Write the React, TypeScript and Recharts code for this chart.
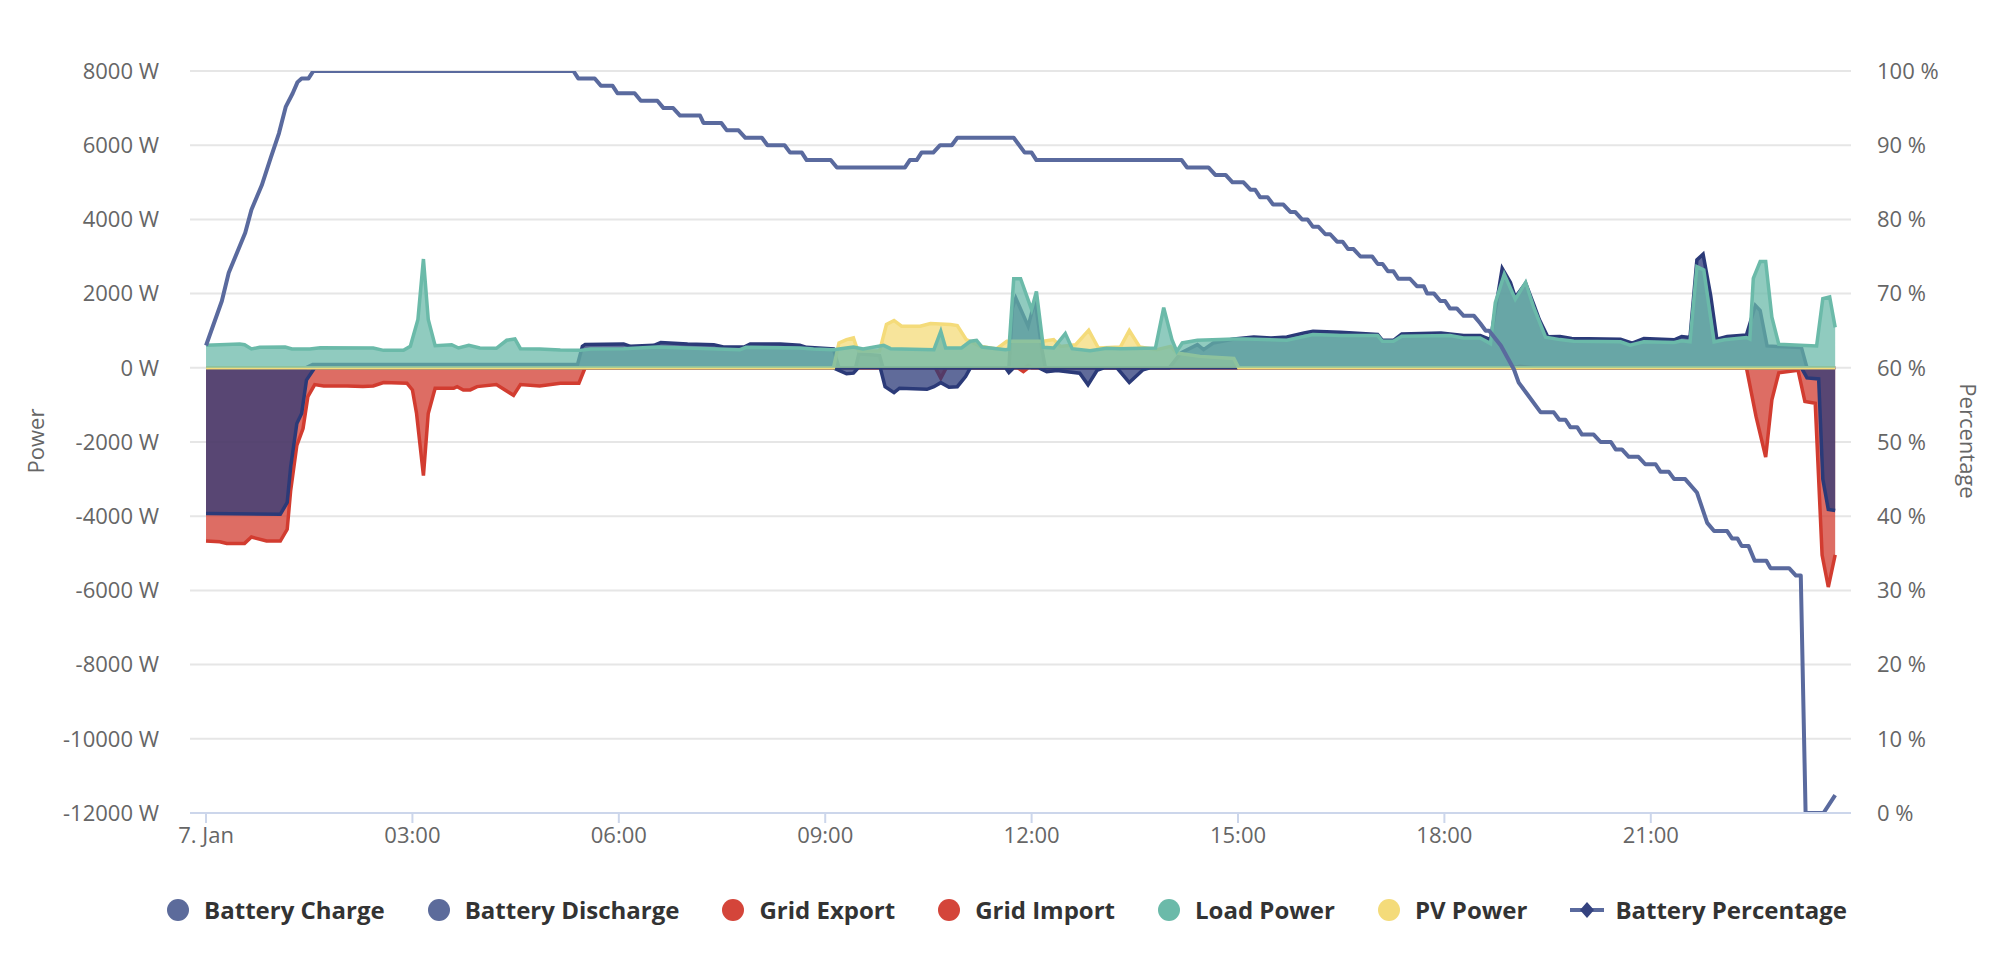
import { Area, CartesianGrid, ComposedChart, Line, XAxis, YAxis } from "recharts";

type Pair = [number, number];

// hours of the day, 7. Jan
const timeTicks = [0, 3, 6, 9, 12, 15, 18, 21];
const timeLabels = ["7. Jan", "03:00", "06:00", "09:00", "12:00", "15:00", "18:00", "21:00"];
const powerTicks = [-12000, -10000, -8000, -6000, -4000, -2000, 0, 2000, 4000, 6000, 8000];
const percentTicks = [0, 10, 20, 30, 40, 50, 60, 70, 80, 90, 100];

const batteryCharge: Pair[] = [
  [0, -3930], [1.08, -3950], [1.18, -3630], [1.23, -2680], [1.32, -1500], [1.39, -1230],
  [1.46, -330], [1.58, 0], [9.12, 0], [9.2, -70], [9.31, -160], [9.41, -145], [9.48, 0],
  [9.8, 0], [9.87, -510], [10.0, -670], [10.08, -550], [10.48, -580], [10.58, -510],
  [10.68, -400], [10.8, -525], [10.92, -510], [11.04, -235], [11.11, 0], [11.62, 0],
  [11.67, -127], [11.74, 0], [12.1, 0], [12.22, -108], [12.37, -72], [12.7, -145],
  [12.82, -460], [12.95, -72], [13.05, 0], [13.24, 0], [13.42, -398], [13.62, -54],
  [13.72, 0], [23.19, 0], [23.27, -273], [23.44, -300], [23.5, -3000], [23.58, -3820],
  [23.68, -3845],
];

const batteryDischarge: Pair[] = [
  [0, 0], [1.45, 0], [1.55, 90], [5.4, 90], [5.47, 580], [5.51, 625], [6.07, 643],
  [6.17, 579], [6.51, 606], [6.61, 680], [7.0, 643], [7.38, 624], [7.52, 561], [7.82, 561],
  [7.91, 643], [8.35, 643], [8.63, 606], [8.73, 552], [9.12, 507], [9.2, 0], [9.44, 0],
  [9.49, 380], [9.79, 330], [9.84, 0], [11.67, 0], [11.72, 1600], [11.77, 1880],
  [11.95, 1120], [12.05, 1830], [12.15, 500], [12.2, 0], [14.0, 0], [14.17, 400],
  [14.41, 624], [14.5, 489], [14.64, 670], [14.94, 778], [15.23, 833], [15.48, 805],
  [15.71, 833], [15.96, 941], [16.09, 986], [16.49, 959], [17.03, 896], [17.1, 742],
  [17.26, 742], [17.38, 914], [17.95, 941], [18.28, 869], [18.52, 869], [18.67, 760],
  [18.84, 2680], [18.96, 2300], [19.03, 1900], [19.18, 2280], [19.3, 1700], [19.38, 1300],
  [19.5, 840], [19.68, 845], [19.85, 791], [20.56, 773], [20.73, 664], [20.9, 791],
  [21.34, 755], [21.45, 845], [21.57, 818], [21.67, 2909], [21.76, 3063], [21.87, 1954],
  [21.96, 773], [22.11, 845], [22.39, 882], [22.52, 1682], [22.59, 1545], [22.69, 591],
  [22.84, 573], [23.19, 545], [23.27, 0], [23.68, 0],
];

const gridExport: Pair[] = [
  [0, 0], [11.9, 0], [11.95, 60], [12.0, 0], [19.0, 0], [19.1, 40], [19.3, 0], [23.68, 0],
];

const gridImport: Pair[] = [
  [0, -4670], [0.2, -4690], [0.3, -4733], [0.56, -4733], [0.66, -4561], [0.88, -4670],
  [1.08, -4670], [1.18, -4353], [1.23, -3312], [1.32, -2090], [1.41, -1638], [1.48, -778],
  [1.58, -452], [1.71, -489], [2.05, -489], [2.28, -507], [2.43, -489], [2.58, -398],
  [2.92, -416], [3.0, -597], [3.06, -1231], [3.16, -2905], [3.23, -1231], [3.33, -552],
  [3.6, -552], [3.65, -507], [3.74, -597], [3.84, -597], [3.94, -507], [4.22, -452],
  [4.47, -742], [4.57, -452], [4.85, -489], [5.15, -416], [5.42, -416], [5.51, 0],
  [10.6, 0], [10.68, -280], [10.76, 0], [11.8, 0], [11.88, -100], [11.95, 0], [22.39, 0],
  [22.53, -1318], [22.67, -2409], [22.76, -864], [22.86, -136], [23.14, -64], [23.24, -909],
  [23.39, -955], [23.49, -5045], [23.58, -5909], [23.68, -5045],
];

const loadPower: Pair[] = [
  [0, 606], [0.2, 624], [0.49, 643], [0.56, 624], [0.66, 507], [0.78, 552], [1.15, 561],
  [1.25, 507], [1.51, 507], [1.66, 543], [2.43, 534], [2.58, 470], [2.87, 470], [2.97, 579],
  [3.08, 1303], [3.16, 2932], [3.23, 1303], [3.33, 597], [3.57, 624], [3.67, 534],
  [3.82, 606], [3.98, 534], [4.22, 525], [4.37, 742], [4.49, 778], [4.57, 516], [4.85, 507],
  [5.15, 480], [5.44, 470], [5.59, 507], [6.07, 516], [6.56, 561], [7.76, 489], [7.85, 552],
  [8.63, 534], [8.83, 507], [9.12, 489], [9.41, 561], [9.55, 507], [9.85, 606], [9.95, 516],
  [10.58, 489], [10.68, 986], [10.75, 534], [10.98, 534], [11.11, 715], [11.2, 742],
  [11.28, 561], [11.62, 489], [11.67, 500], [11.74, 2400], [11.84, 2400], [12.0, 1570],
  [12.07, 2060], [12.17, 552], [12.32, 534], [12.49, 923], [12.59, 516], [12.85, 461],
  [13.09, 525], [13.29, 516], [13.8, 534], [13.92, 1620], [14.04, 760], [14.11, 443],
  [14.19, 670], [14.41, 742], [14.74, 760], [14.94, 778], [15.13, 778], [15.71, 742],
  [16.09, 896], [16.49, 869], [17.03, 869], [17.1, 715], [17.26, 715], [17.38, 851],
  [18.08, 869], [18.28, 805], [18.52, 805], [18.67, 652], [18.74, 1756], [18.87, 2525],
  [19.03, 1846], [19.18, 2299], [19.3, 1620], [19.47, 824], [19.68, 760], [19.88, 715],
  [20.56, 700], [20.7, 609], [20.9, 700], [21.34, 682], [21.45, 727], [21.57, 700],
  [21.67, 2727], [21.77, 2636], [21.92, 700], [22.07, 755], [22.39, 818], [22.44, 773],
  [22.49, 2409], [22.59, 2863], [22.67, 2863], [22.76, 1364], [22.86, 636], [23.17, 609],
  [23.41, 591], [23.5, 1863], [23.6, 1909], [23.68, 1091],
];

const pvPower: Pair[] = [
  [0, 0], [9.12, 0], [9.2, 670], [9.31, 760], [9.41, 805], [9.46, 534], [9.49, 450],
  [9.79, 450], [9.89, 1167], [10.0, 1276], [10.11, 1122], [10.38, 1122], [10.53, 1195],
  [10.82, 1167], [10.92, 1140], [11.05, 760], [11.25, 579], [11.49, 507], [11.64, 715],
  [12.17, 715], [12.32, 760], [12.42, 576], [12.64, 621], [12.83, 1014], [12.97, 534],
  [13.29, 561], [13.42, 1004], [13.57, 561], [13.82, 489], [14.02, 579], [14.11, 398],
  [14.45, 308], [14.94, 253], [15.01, 0], [23.68, 0],
];

const batteryPercentage: Pair[] = [
  [0, 63], [0.23, 69], [0.33, 72.8], [0.57, 78.2], [0.66, 81.3], [0.81, 84.6], [0.94, 88.3],
  [1.06, 91.6], [1.16, 95.2], [1.26, 97], [1.33, 98.5], [1.39, 99], [1.49, 99], [1.56, 100],
  [5.34, 100], [5.41, 99], [5.65, 99], [5.74, 98], [5.91, 98], [5.98, 97], [6.23, 97],
  [6.32, 96], [6.56, 96], [6.65, 95], [6.79, 95], [6.89, 94], [7.18, 94], [7.23, 93],
  [7.49, 93], [7.57, 92], [7.74, 92], [7.84, 91], [8.08, 91], [8.16, 90], [8.41, 90],
  [8.49, 89], [8.66, 89], [8.73, 88], [9.08, 88], [9.17, 87], [10.16, 87], [10.23, 88],
  [10.33, 88], [10.4, 89], [10.57, 89], [10.67, 90], [10.84, 90], [10.92, 91], [11.74, 91],
  [11.9, 89], [12.0, 89], [12.07, 88], [14.18, 88], [14.26, 87], [14.57, 87], [14.67, 86],
  [14.82, 86], [14.92, 85], [15.08, 85], [15.18, 84], [15.25, 84], [15.32, 83], [15.43, 83],
  [15.51, 82], [15.66, 82], [15.76, 81], [15.83, 81], [15.93, 80], [16.01, 80], [16.09, 79],
  [16.17, 79], [16.27, 78], [16.34, 78], [16.44, 77], [16.52, 77], [16.6, 76], [16.68, 76],
  [16.78, 75], [16.95, 75], [17.03, 74], [17.1, 74], [17.18, 73], [17.26, 73], [17.33, 72],
  [17.5, 72], [17.6, 71], [17.7, 71], [17.75, 70], [17.85, 70], [17.94, 69], [18.01, 69],
  [18.08, 68], [18.18, 68], [18.28, 67], [18.43, 67], [18.52, 66], [18.6, 65], [18.65, 65],
  [18.82, 63], [19.01, 59.8], [19.08, 58], [19.2, 56.5], [19.4, 54], [19.59, 54], [19.67, 53],
  [19.76, 53], [19.83, 52], [19.93, 52], [20.0, 51], [20.17, 51], [20.27, 50], [20.42, 50],
  [20.49, 49], [20.58, 49], [20.68, 48], [20.82, 48], [20.92, 47], [21.07, 47], [21.14, 46],
  [21.26, 46], [21.34, 45], [21.5, 45], [21.67, 43.2], [21.82, 39.1], [21.92, 38], [22.11, 38],
  [22.18, 37], [22.26, 37], [22.32, 36], [22.42, 36], [22.51, 34], [22.68, 34], [22.74, 33],
  [23.01, 33], [23.11, 32], [23.18, 32], [23.25, 0], [23.51, 0], [23.68, 2.4],
];

const toPoints = (rows: Pair[]) => rows.map(([t, v]) => ({ t, v }));

const BATTERY = "#2b3a78";
const GRID = "#d23c30";
const LOAD = "#6bbaa9";
const PV = "#f4db7a";
const PERCENT = "#5a6a9e";

const legendItems = [
  { name: "Battery Charge", color: "#5c6b9b" },
  { name: "Battery Discharge", color: "#5c6b9b" },
  { name: "Grid Export", color: "#d4453a" },
  { name: "Grid Import", color: "#d4453a" },
  { name: "Load Power", color: LOAD },
  { name: "PV Power", color: PV },
];

const FONT = "'Open Sans', sans-serif";
const axisTick = { fill: "#666666", fontSize: 22, fontFamily: FONT };

function Legend() {
  return (
    <div
      style={{
        position: "absolute",
        top: 893,
        left: 0,
        width: 2014,
        display: "flex",
        justifyContent: "center",
        alignItems: "center",
        fontFamily: FONT,
        fontWeight: 700,
        fontSize: 24,
        color: "#333333",
      }}
    >
      {legendItems.map((it) => (
        <div key={it.name} style={{ display: "flex", alignItems: "center", marginRight: 43 }}>
          <span
            style={{
              width: 22,
              height: 22,
              borderRadius: "50%",
              background: it.color,
              marginRight: 15,
              display: "inline-block",
            }}
          />
          <span>{it.name}</span>
        </div>
      ))}
      <div style={{ display: "flex", alignItems: "center" }}>
        <svg width={34} height={22} style={{ marginRight: 11 }}>
          <line x1={0} y1={11} x2={34} y2={11} stroke={PERCENT} strokeWidth={4} />
          <path d="M17 3 L24 11 L17 19 L10 11 Z" fill="#34427f" />
        </svg>
        <span>Battery Percentage</span>
      </div>
    </div>
  );
}

export default function App() {
  return (
    <div
      style={{
        position: "absolute",
        left: 0,
        top: 0,
        width: 2014,
        height: 954,
        background: "#ffffff",
        fontFamily: FONT,
      }}
    >
      <ComposedChart
        width={2014}
        height={870}
        margin={{ top: 71, right: 0, bottom: 0, left: 0 }}
      >
        <CartesianGrid vertical={false} stroke="#e6e6e6" strokeWidth={2} yAxisId="w" />
        <XAxis
          type="number"
          dataKey="t"
          domain={[-0.233, 23.91]}
          allowDataOverflow
          ticks={timeTicks}
          tickFormatter={(v) => timeLabels[timeTicks.indexOf(v)] ?? ""}
          height={57}
          stroke="#ccd6eb"
          strokeWidth={2}
          tickSize={10}
          tickMargin={4}
          tick={axisTick}
        />
        <YAxis
          yAxisId="w"
          domain={[-12000, 8000]}
          ticks={powerTicks}
          allowDataOverflow
          tickFormatter={(v) => `${v} W`}
          width={190}
          axisLine={false}
          tickLine={false}
          tickSize={0}
          tickMargin={31}
          tick={axisTick}
        />
        <YAxis
          yAxisId="pct"
          orientation="right"
          domain={[0, 100]}
          ticks={percentTicks}
          allowDataOverflow
          tickFormatter={(v) => `${v} %`}
          width={163}
          axisLine={false}
          tickLine={false}
          tickSize={0}
          tickMargin={26}
          tick={axisTick}
        />
        <Area
          yAxisId="w"
          data={toPoints(gridExport)}
          dataKey="v"
          name="Grid Export"
          type="linear"
          stroke={GRID}
          strokeWidth={3.5}
          fill={GRID}
          fillOpacity={0.75}
          dot={false}
          activeDot={false}
          isAnimationActive={false}
        />
        <Area
          yAxisId="w"
          data={toPoints(gridImport)}
          dataKey="v"
          name="Grid Import"
          type="linear"
          stroke={GRID}
          strokeWidth={3.5}
          fill={GRID}
          fillOpacity={0.75}
          dot={false}
          activeDot={false}
          isAnimationActive={false}
        />
        <Area
          yAxisId="w"
          data={toPoints(batteryCharge)}
          dataKey="v"
          name="Battery Charge"
          type="linear"
          stroke={BATTERY}
          strokeWidth={3.5}
          fill={BATTERY}
          fillOpacity={0.75}
          dot={false}
          activeDot={false}
          isAnimationActive={false}
        />
        <Area
          yAxisId="w"
          data={toPoints(batteryDischarge)}
          dataKey="v"
          name="Battery Discharge"
          type="linear"
          stroke={BATTERY}
          strokeWidth={3.5}
          fill={BATTERY}
          fillOpacity={0.75}
          dot={false}
          activeDot={false}
          isAnimationActive={false}
        />
        <Area
          yAxisId="w"
          data={toPoints(pvPower)}
          dataKey="v"
          name="PV Power"
          type="linear"
          stroke={PV}
          strokeWidth={3.5}
          fill={PV}
          fillOpacity={0.75}
          dot={false}
          activeDot={false}
          isAnimationActive={false}
        />
        <Area
          yAxisId="w"
          data={toPoints(loadPower)}
          dataKey="v"
          name="Load Power"
          type="linear"
          stroke={LOAD}
          strokeWidth={3.5}
          fill={LOAD}
          fillOpacity={0.75}
          dot={false}
          activeDot={false}
          isAnimationActive={false}
        />
        <Line
          yAxisId="pct"
          data={toPoints(batteryPercentage)}
          dataKey="v"
          name="Battery Percentage"
          type="linear"
          stroke={PERCENT}
          strokeWidth={4}
          strokeLinejoin="round"
          dot={false}
          activeDot={false}
          isAnimationActive={false}
        />
      </ComposedChart>
      <div
        style={{
          position: "absolute",
          left: 35,
          top: 441,
          transform: "translate(-50%, -50%) rotate(-90deg)",
          fontSize: 22,
          color: "#666666",
          whiteSpace: "nowrap",
        }}
      >
        Power
      </div>
      <div
        style={{
          position: "absolute",
          left: 1969,
          top: 441,
          transform: "translate(-50%, -50%) rotate(90deg)",
          fontSize: 22,
          color: "#666666",
          whiteSpace: "nowrap",
        }}
      >
        Percentage
      </div>
      <Legend />
    </div>
  );
}
